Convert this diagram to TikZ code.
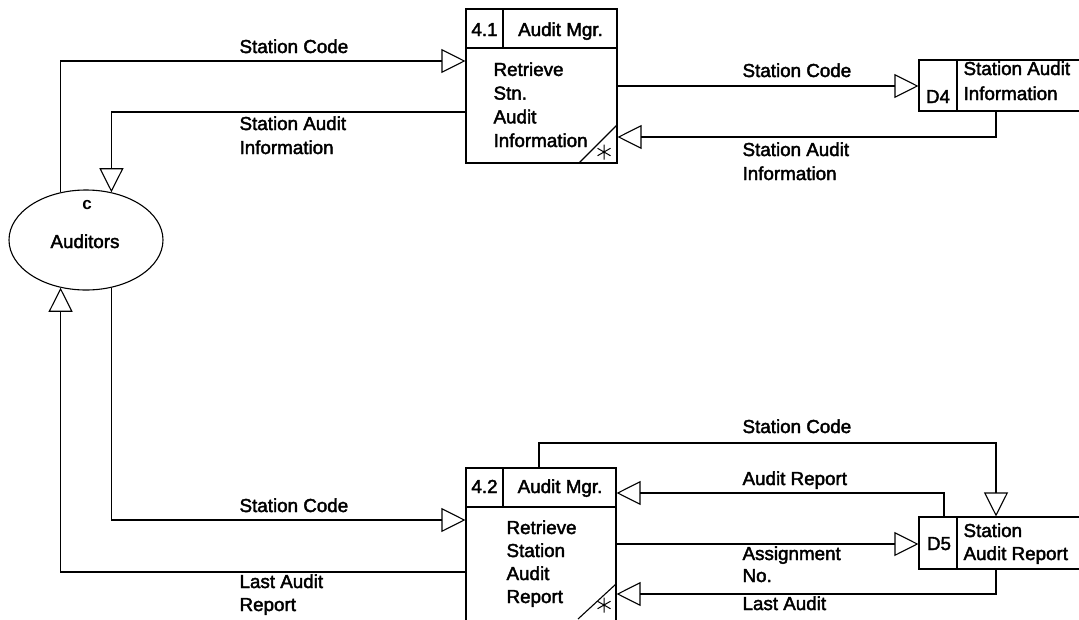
\documentclass[tikz,border=0pt]{standalone}
\usepackage{fontspec}
\setmainfont{Liberation Sans}
\newfontfamily\dfont{Liberation Sans}[FakeBold=2.2]
\usetikzlibrary{arrows.meta,shapes.geometric}
\begin{document}
\begin{tikzpicture}[x=1pt,y=-1pt,
  line width=1.1pt,
  flow/.style={-{Triangle[open,length=24pt,width=24pt]}},
  lbl/.style={anchor=base west,inner sep=0pt,align=left,font=\dfont\fontsize{18.8}{23.5}\selectfont},
  ctr/.style={anchor=base,inner sep=0pt,font=\dfont\fontsize{18.8}{23.5}\selectfont},
  procbox/.style={draw,rectangle,inner sep=0pt},
  storebox/.style={draw,rectangle,inner sep=0pt,minimum width=181pt},
  star/.style={line width=1pt}
]
\useasboundingbox (0,0) rectangle (1079,619);
\clip (0,0) rectangle (1079,619);
\fill[white] (0,0) rectangle (1079,619);

% ---------- external entity ----------
\node[draw,ellipse,minimum width=154pt,minimum height=100pt,inner sep=0pt] (aud) at (86,240) {};
\node[anchor=base,inner sep=0pt,font=\fontsize{17}{18}\selectfont\bfseries] (audc) at (87,209) {c};
\node[ctr] (audn) at (85,248) {Auditors};

% ---------- process 4.1 ----------
\node[procbox,minimum width=151pt,minimum height=154pt] (p41) at (541.5,86) {};
\draw (p41.west |- 0,48) -- (p41.east |- 0,48);
\draw (503,9) -- (503,48);
\draw (579,163) -- (617,125);
\draw[star] (604,144.5) -- (604,159.5) (597.5,148.25) -- (610.5,155.75) (597.5,155.75) -- (610.5,148.25);
\node[ctr] (p41n) at (484.5,36) {4.1};
\node[ctr] (p41r) at (560.5,36) {Audit Mgr.};
\node[lbl,font=\dfont\fontsize{18.8}{23.7}\selectfont] (p41t) at (493,147) {Retrieve\\Stn.\\Audit\\Information};

% ---------- process 4.2 ----------
\node[procbox,minimum width=150pt,minimum height=180pt] (p42) at (541,558) {};
\draw (p42.west |- 0,507) -- (p42.east |- 0,507);
\draw (503,468) -- (503,507);
\draw (578,619) -- (616,584);
\draw[star] (604,597.5) -- (604,612.5) (597.5,601.25) -- (610.5,608.75) (597.5,608.75) -- (610.5,601.25);
\node[ctr] (p42n) at (484.5,493) {4.2};
\node[ctr] (p42r) at (560,493) {Audit Mgr.};
\node[lbl,font=\dfont\fontsize{18.8}{23}\selectfont] (p42t) at (506,603) {Retrieve\\Station\\Audit\\Report};

% ---------- data store D4 ----------
\node[storebox,minimum height=51pt] (d4) at (1009.5,85.5) {};
\draw (957,60) -- (957,111);
\node[ctr] (d4n) at (938,103) {D4};
\node[lbl,font=\dfont\fontsize{18.8}{25}\selectfont] (d4t) at (963,100) {Station Audit\\Information};

% ---------- data store D5 ----------
\node[storebox,minimum height=52pt] (d5) at (1009.5,543) {};
\draw (957,517) -- (957,569);
\node[ctr] (d5n) at (939,550) {D5};
\node[lbl,font=\dfont\fontsize{18.8}{23}\selectfont] (d5t) at (963,560) {Station\\Audit Report};

% ---------- flows ----------
\draw[flow] (aud.118.5) |- (p41.west |- 0,61);
\node[lbl] (f1) at (239,53) {Station Code};

\draw[flow] (p41.west |- 0,112) -| (aud.62);
\node[lbl,font=\dfont\fontsize{18.8}{24}\selectfont] (f2) at (239,154) {Station Audit\\Information};

\draw[flow] (p41.east |- 0,86) -- (d4.west |- 0,86);
\node[lbl] (f3) at (742,77) {Station Code};

\draw[flow] (d4.south -| 996,0) |- (p41.east |- 0,137);
\node[lbl,font=\dfont\fontsize{18.8}{24}\selectfont] (f4) at (742,180) {Station Audit\\Information};

\draw[flow] (aud.-62) |- (p42.west |- 0,520);
\node[lbl] (f5) at (239,512) {Station Code};

\draw[flow] (p42.west |- 0,572) -| (aud.-118.5);
\node[lbl,font=\dfont\fontsize{18.8}{23}\selectfont] (f6) at (239,611) {Last Audit\\Report};

\draw[flow] (p42.north -| 539,0) -- (539,443) -- (996,443) -- (d5.north -| 996,0);
\node[lbl] (f7) at (742,433) {Station Code};

\draw[flow] (d5.north -| 944,0) |- (p42.east |- 0,493);
\node[lbl] (f8) at (742,485) {Audit Report};

\draw[flow] (p42.east |- 0,544) -- (d5.west |- 0,544);
\node[lbl,font=\dfont\fontsize{18.8}{22}\selectfont] (f9) at (742,582) {Assignment\\No.};

\draw[flow] (d5.south -| 996,0) |- (p42.east |- 0,594);
\node[lbl] (f10) at (742,610) {Last Audit};
\end{tikzpicture}
\end{document}
